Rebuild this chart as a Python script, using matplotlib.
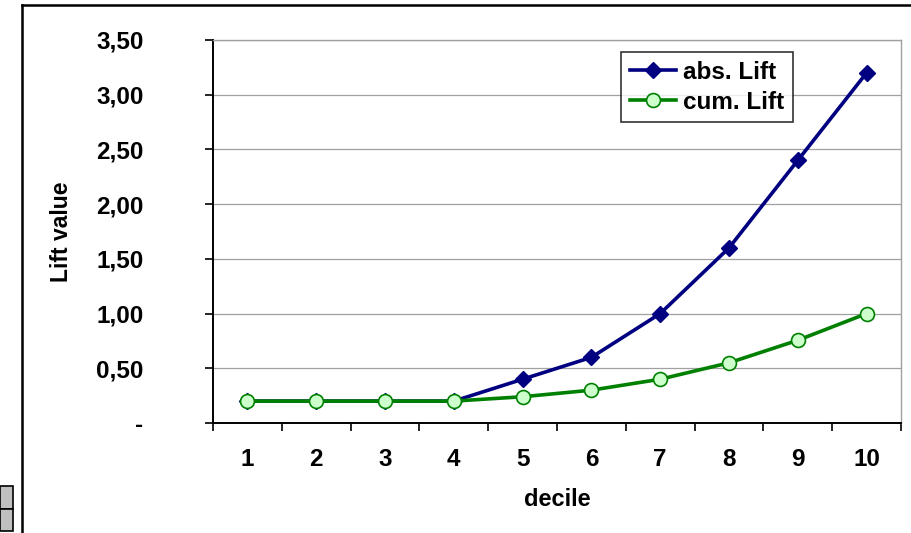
import matplotlib.pyplot as plt
from matplotlib.lines import Line2D
from matplotlib.patches import Rectangle
from matplotlib.ticker import FuncFormatter

plt.rcParams['font.family'] = ['Liberation Sans', 'DejaVu Sans']
plt.rcParams['font.weight'] = 'bold'

deciles = [1, 2, 3, 4, 5, 6, 7, 8, 9, 10]
abs_lift = [0.20, 0.20, 0.20, 0.20, 0.40, 0.60, 1.00, 1.60, 2.40, 3.20]
cum_lift = [0.20, 0.20, 0.20, 0.20, 0.24, 0.30, 0.40, 0.55, 0.756, 1.00]
y_ticks = [0, 0.5, 1.0, 1.5, 2.0, 2.5, 3.0, 3.5]

W, H = 912, 533
fig = plt.figure(figsize=(W / 100, H / 100), dpi=100)
ax = fig.add_axes([213 / W, 1 - 423 / H, (901 - 213) / W, (423 - 40) / H])

ax.plot(deciles, abs_lift, color='#000080', lw=2.6, marker='D', ms=8,
        mfc='#000080', mec='#000080', label='abs. Lift', zorder=3)
ax.plot(deciles, cum_lift, color='#008000', lw=2.6, marker='o', ms=10,
        mfc='#ccffcc', mec='#008000', mew=1.2, label='cum. Lift', zorder=4)

ax.set_xlim(0.5, 10.5)
ax.set_ylim(0, 3.5)
ax.set_xticks([i + 0.5 for i in range(11)])
ax.set_xticklabels([])
ax.set_xticks(deciles, minor=True)
ax.set_xticklabels([str(d) for d in deciles], minor=True)
ax.tick_params(axis='x', which='major', direction='out', length=6, width=1.2)
ax.tick_params(axis='x', which='minor', length=0, pad=18, labelsize=17.5)

ax.set_yticks(y_ticks)
ax.yaxis.set_major_formatter(FuncFormatter(
    lambda v, p: '-' if v == 0 else f'{v:.2f}'.replace('.', ',')))
ax.tick_params(axis='y', direction='out', length=6, width=1.2, pad=44,
               labelsize=17.5)

ax.grid(axis='y', color='#a0a0a0', lw=0.9)
ax.set_axisbelow(True)
for s in ['left', 'bottom']:
    ax.spines[s].set_color('black')
    ax.spines[s].set_linewidth(1.4)
for s in ['top', 'right']:
    ax.spines[s].set_color('#a0a0a0')
    ax.spines[s].set_linewidth(1.0)

ax.set_xlabel('decile', fontsize=17, fontweight='bold', labelpad=12)
ax.set_ylabel('Lift value', fontsize=16.5, fontweight='bold')
ax.yaxis.set_label_coords(-(213 - 73) / (901 - 213), 0.5)

leg = ax.legend(loc='upper right', bbox_to_anchor=((793 - 213) / 688, (423 - 52) / 383),
                fontsize=17.5, frameon=True, fancybox=False, handlelength=1.9,
                labelspacing=0.3, borderpad=0.35, handletextpad=0.3,
                borderaxespad=0)
leg.get_frame().set_edgecolor('black')
leg.get_frame().set_linewidth(1.2)

# outer chart frame (cut off at right/bottom)
fig.add_artist(Line2D([22 / W, 1], [1 - 5 / H, 1 - 5 / H], color='black', lw=1.8))
fig.add_artist(Line2D([22 / W, 22 / W], [1 - 5 / H, 0], color='black', lw=1.8))
# small grey cells at bottom-left
for y0, y1 in [(486, 509), (509, 531)]:
    fig.add_artist(Rectangle((0, 1 - y1 / H), 13 / W, (y1 - y0) / H,
                             facecolor='#c0c0c0', edgecolor='black', lw=1.2))

fig.savefig('out.png', dpi=100)
